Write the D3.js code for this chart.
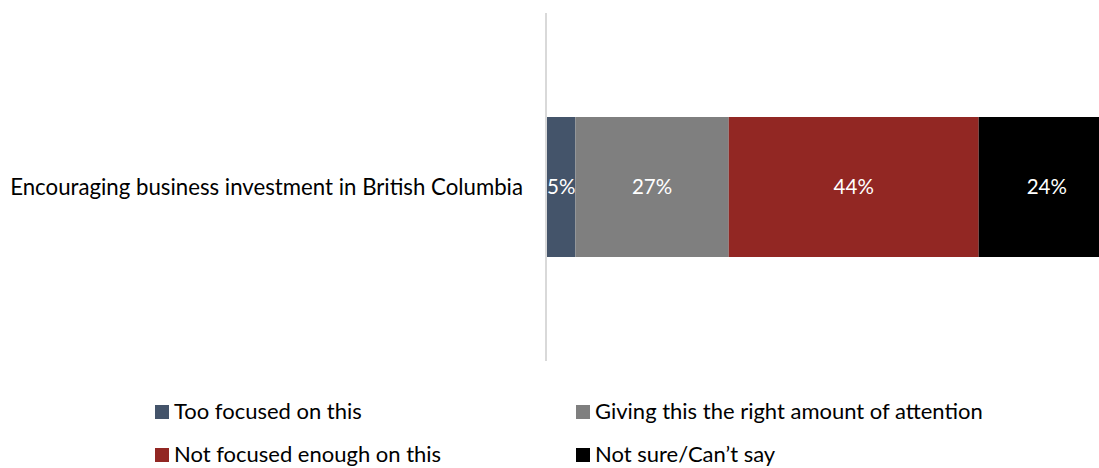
<!DOCTYPE html>
<html>
<head>
<meta charset="utf-8">
<script src="https://cdn.jsdelivr.net/npm/d3@7"></script>
<style>
  html, body { margin: 0; padding: 0; background: #fff; overflow: hidden; }
  svg { display: block; font-family: Lato, "Open Sans", sans-serif; }
</style>
</head>
<body>
<svg id="chart" width="1099" height="468"></svg>
<script>
// Survey item and response breakdown (percent)
const categories = ["Encouraging business investment in British Columbia"];
const seriesNames = [
  "Too focused on this",
  "Giving this the right amount of attention",
  "Not focused enough on this",
  "Not sure/Can\u2019t say"
];
const seriesValues = [
  [5],
  [27],
  [44],
  [24]
];
const seriesColors = ["#44546a", "#7f7f7f", "#922723", "#000000"];

const svg = d3.select("#chart");

// Plot area: x runs from the category axis out past the right edge
const x = d3.scaleLinear().domain([0, 100]).range([547, 1115]);
const y = d3.scaleBand().domain(categories).range([13, 361]).paddingInner(0.2).paddingOuter(0.3);

// Stack the series
const rows = categories.map((c, i) => {
  const r = { category: c };
  seriesNames.forEach((s, j) => r[s] = seriesValues[j][i]);
  return r;
});
const stacked = d3.stack().keys(seriesNames)(rows);

// Shrink or grow a text's font so it spans a given width
function fitText(sel, width, base) {
  sel.style("font-size", base + "px");
  const w = sel.node().getComputedTextLength();
  sel.style("font-size", (base * width / w) + "px");
}

const barH = 140;
const barG = svg.append("g");
stacked.forEach((layer, j) => {
  layer.forEach((d, i) => {
    const cy = y(categories[i]) + y.bandwidth() / 2;
    barG.append("rect")
      .attr("x", x(d[0]))
      .attr("y", cy - barH / 2)
      .attr("width", x(d[1]) - x(d[0]))
      .attr("height", barH)
      .attr("fill", seriesColors[j]);
    const v = d[1] - d[0];
    barG.append("text")
      .attr("x", (x(d[0]) + x(d[1])) / 2)
      .attr("y", cy)
      .attr("dy", "0.35em")
      .attr("text-anchor", "middle")
      .attr("fill", "#fff")
      .style("font-size", "20.5px")
      .text(v + "%");
  });
});

// Category axis line
svg.append("line")
  .attr("x1", 546).attr("x2", 546)
  .attr("y1", 13).attr("y2", 361)
  .attr("stroke", "#d9d9d9")
  .attr("stroke-width", 2);

// Category labels
categories.forEach(c => {
  const t = svg.append("text")
    .attr("x", 523)
    .attr("y", y(c) + y.bandwidth() / 2)
    .attr("dy", "0.35em")
    .attr("text-anchor", "end")
    .attr("fill", "#000")
    .text(c);
  fitText(t, 513, 20);
});

// Legend, two columns by two rows
const legendPos = [
  { x: 155, y: 405 },
  { x: 576, y: 405 },
  { x: 155, y: 448 },
  { x: 576, y: 448 }
];
const lg = svg.append("g");
const legendText = [];
seriesNames.forEach((s, j) => {
  const p = legendPos[j];
  lg.append("rect")
    .attr("x", p.x).attr("y", p.y)
    .attr("width", 14).attr("height", 14)
    .attr("fill", seriesColors[j]);
  legendText.push(lg.append("text")
    .attr("x", p.x + 19)
    .attr("y", p.y + 14)
    .attr("fill", "#000")
    .text(s));
});
// Common legend font size, set from the widest entry
fitText(legendText[1], 388, 20);
const legendSize = legendText[1].style("font-size");
legendText.forEach(t => t.style("font-size", legendSize));
</script>
</body>
</html>
